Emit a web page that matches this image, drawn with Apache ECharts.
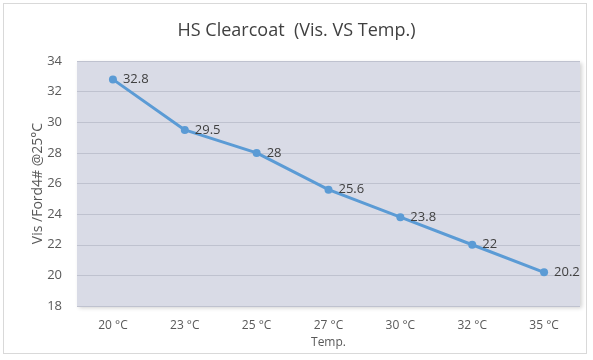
<!DOCTYPE html>
<html>
<head>
<meta charset="utf-8">
<script src="https://cdn.jsdelivr.net/npm/echarts@6/dist/echarts.min.js"></script>
<style>
html,body{margin:0;padding:0;background:#fff;}
#frame{position:absolute;left:3px;top:3px;width:584px;height:351px;border:1px solid #d9d9d9;box-sizing:border-box;}
#chart{position:absolute;left:0;top:0;width:593px;height:360px;}
</style>
</head>
<body>
<div id="frame"></div>
<div id="chart"></div>
<script>
var categories = ['20 °C', '23 °C', '25 °C', '27 °C', '30 °C', '32 °C', '35 °C'];
var viscosity = [32.8, 29.5, 28, 25.6, 23.8, 22, 20.2];
var yMin = 18, yMax = 34, yStep = 2;

var chart = echarts.init(document.getElementById('chart'));
var font = '"Open Sans", "Liberation Sans", sans-serif';
chart.setOption({
  animation: false,
  title: {
    text: 'HS Clearcoat  (Vis. VS Temp.)',
    left: 'center',
    top: 17,
    textStyle: {fontFamily: font, fontSize: 18, fontWeight: 'normal', color: '#404040'}
  },
  grid: {
    left: 77, right: 13, top: 61, bottom: 54,
    show: true,
    backgroundColor: '#d9dbe6',
    borderWidth: 0,
    shadowColor: 'rgba(0,0,0,0.18)',
    shadowBlur: 4,
    shadowOffsetX: 2,
    shadowOffsetY: 2
  },
  xAxis: {
    type: 'category',
    data: categories,
    name: 'Temp.',
    nameLocation: 'middle',
    nameGap: 31,
    nameMoveOverlap: false,
    nameTextStyle: {fontFamily: font, fontSize: 12, color: '#595959'},
    axisLine: {show: false},
    axisTick: {show: false},
    axisLabel: {fontFamily: font, fontSize: 12, color: '#595959', margin: 14}
  },
  yAxis: {
    type: 'value',
    min: yMin, max: yMax, interval: yStep,
    name: 'Vis /Ford4# @25°C',
    nameLocation: 'middle',
    nameGap: 32,
    nameMoveOverlap: false,
    nameTextStyle: {fontFamily: font, fontSize: 14, color: '#595959'},
    axisLine: {show: false},
    axisTick: {show: false},
    axisLabel: {fontFamily: font, fontSize: 13, color: '#595959', margin: 15},
    splitLine: {lineStyle: {color: '#bfc2cf', width: 1}}
  },
  series: [{
    type: 'line',
    data: viscosity,
    symbol: 'circle',
    symbolSize: 8,
    lineStyle: {color: '#5b9bd5', width: 3},
    itemStyle: {color: '#5b9bd5'},
    label: {
      show: true,
      position: 'right',
      distance: 6,
      fontFamily: font,
      fontSize: 13,
      color: '#404040'
    }
  }]
});
</script>
</body>
</html>
